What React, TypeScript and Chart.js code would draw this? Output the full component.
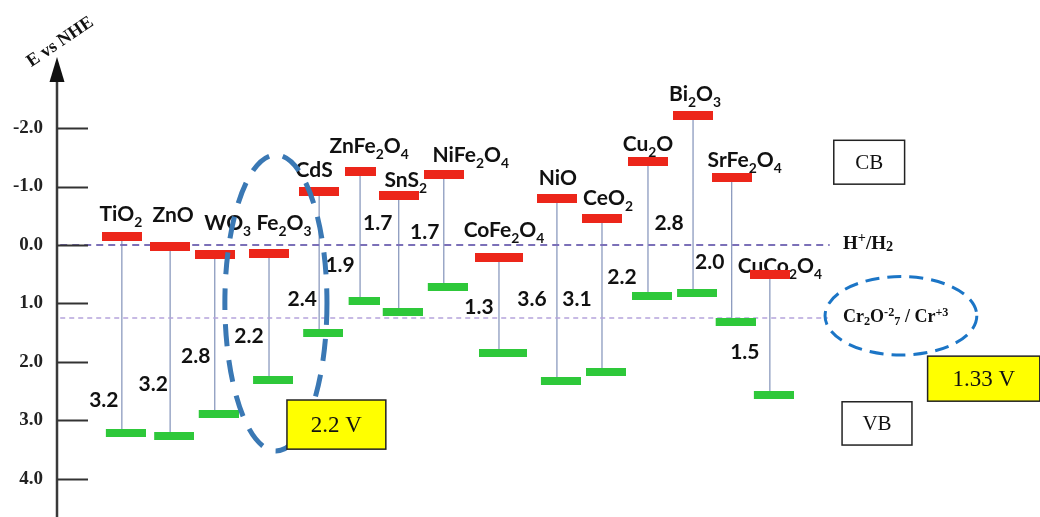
import React, { useEffect, useRef } from "react";
import { Chart, registerables } from "chart.js";

Chart.register(...registerables);

// ---------------- data ----------------
const materials = [
  "TiO_{2}", "ZnO", "WO_{3}", "Fe_{2}O_{3}", "CdS", "ZnFe_{2}O_{4}", "SnS_{2}", "NiFe_{2}O_{4}",
  "CoFe_{2}O_{4}", "NiO", "CeO_{2}", "Cu_{2}O", "Bi_{2}O_{3}", "SrFe_{2}O_{4}", "CuCo_{2}O_{4}",
];
const materialPosition = [1.41, 2.46, 3.43, 4.61, 5.70, 6.59, 7.43, 8.41, 9.61, 10.87, 11.85, 12.85, 13.83, 14.67, 15.50];
const conductionBand = [-0.14, 0.02, 0.17, 0.14, -0.91, -1.25, -0.85, -1.21, 0.21, -0.80, -0.46, -1.42, -2.22, -1.15, 0.50];
const valenceBand = [3.21, 3.26, 2.89, 2.31, 1.50, 0.96, 1.15, 0.72, 1.85, 2.32, 2.17, 0.87, 0.82, 1.32, 2.56];
const bandGapLabels = ["3.2", "3.2", "2.8", "2.2", "2.4", "1.9", "1.7", "1.7", "1.3", "3.6", "3.1", "2.2", "2.8", "2.0", "1.5"];
const bandGapLabelLevel = [2.65, 2.38, 1.91, 1.56, 0.92, 0.34, -0.38, -0.22, 1.06, 0.92, 0.92, 0.55, -0.38, 0.29, 1.83];
const yTicks = [-2, -1, 0, 1, 2, 3, 4];
const hydrogenLevel = 0;
const chromateLevel = 1.25;
const refLineStart = 0.07;
const refLineEnd = 16.8;

// ---------------- layout / style (not data) ----------------
const X_MAX = 21.2;
const Y_MIN = -3.214;
const Y_MAX = 4.65;
const nameOffset = [
  [-1, -16], [3, -24], [13, -25], [15, -23], [-5, -15], [9, -19], [7, -8], [27, -12],
  [5, -20], [1, -13], [6, -13], [0, -11], [2, -14], [13, -11], [10, -1],
];
const gapOffset = [-18, -17, -19, -20, -17, -20, -21, -19, -20, -25, -25, -26, -24, -22, -25];
const barWidthOverride: Record<number, number> = { 5: 31, 8: 48 };
const RED = "#ec261a";
const GREEN = "#2ec83a";
const NAME_FONT = "Lato, 'Open Sans', sans-serif";
const SERIF = "'Liberation Serif', 'Times New Roman', serif";

function makeBar(color: string, width: number, height: number, offset: number) {
  const c = document.createElement("canvas");
  c.width = width + 2 * Math.abs(offset);
  c.height = height;
  const g = c.getContext("2d")!;
  g.fillStyle = color;
  g.fillRect(offset > 0 ? 2 * offset : 0, 0, width, height);
  return c;
}

function parseRich(s: string) {
  const runs: { t: string; k: "n" | "sub" | "sup" }[] = [];
  const re = /([_^])\{([^}]*)\}|([^_^]+)/g;
  let m: RegExpExecArray | null;
  while ((m = re.exec(s))) {
    if (m[3]) runs.push({ t: m[3], k: "n" });
    else runs.push({ t: m[2], k: m[1] === "_" ? "sub" : "sup" });
  }
  return runs;
}

function drawRich(
  ctx: CanvasRenderingContext2D, s: string, x: number, y: number, size: number,
  family: string, weight: string, align: "center" | "left", color: string,
  subDy = 0.28, supDy = 0.4, smallRatio = 0.66,
) {
  const runs = parseRich(s);
  const small = size * smallRatio;
  const fontFor = (k: string) => `${weight} ${k === "n" ? size : small}px ${family}`;
  let total = 0;
  const widths = runs.map((r) => {
    ctx.font = fontFor(r.k);
    const w = ctx.measureText(r.t).width;
    total += w;
    return w;
  });
  let cx = align === "center" ? x - total / 2 : x;
  ctx.fillStyle = color;
  ctx.textBaseline = "alphabetic";
  ctx.textAlign = "left";
  runs.forEach((r, i) => {
    ctx.font = fontFor(r.k);
    const dy = r.k === "sub" ? size * subDy : r.k === "sup" ? -size * supDy : 0;
    ctx.fillText(r.t, cx, y + dy);
    cx += widths[i];
  });
}

const decorPlugin = {
  id: "decor",
  beforeDatasetsDraw(chart: any) {
    const ctx: CanvasRenderingContext2D = chart.ctx;
    const xs = chart.scales.x;
    const ys = chart.scales.y;
    ctx.save();
    materials.forEach((name, i) => {
      const px = xs.getPixelForValue(materialPosition[i]);
      const py = ys.getPixelForValue(conductionBand[i]);
      const [dx, dy] = nameOffset[i];
      drawRich(ctx, name, px + dx, py + dy, 21, NAME_FONT, "bold", "center", "#111");
      ctx.font = `bold 21px ${NAME_FONT}`;
      ctx.textAlign = "center";
      ctx.textBaseline = "middle";
      ctx.fillStyle = "#111";
      ctx.fillText(bandGapLabels[i], px + gapOffset[i], ys.getPixelForValue(bandGapLabelLevel[i]));
    });
    ctx.restore();
  },
  afterDatasetsDraw(chart: any) {
    const ctx: CanvasRenderingContext2D = chart.ctx;
    const xs = chart.scales.x;
    const ys = chart.scales.y;
    const area = chart.chartArea;
    const X = (v: number) => xs.getPixelForValue(v);
    const Y = (v: number) => ys.getPixelForValue(v);
    ctx.save();
    // axis line + arrow
    const ax = area.left;
    ctx.strokeStyle = "#3a3a3a";
    ctx.lineWidth = 2.5;
    ctx.beginPath();
    ctx.moveTo(ax, area.top + 20);
    ctx.lineTo(ax, chart.height);
    ctx.stroke();
    ctx.fillStyle = "#111";
    ctx.beginPath();
    ctx.moveTo(ax, area.top);
    ctx.lineTo(ax - 7.5, area.top + 25);
    ctx.lineTo(ax + 7.5, area.top + 25);
    ctx.closePath();
    ctx.fill();
    // tick marks
    ctx.strokeStyle = "#333";
    ctx.lineWidth = 2;
    yTicks.forEach((t) => {
      const y = Math.round(Y(t)) + 0.5;
      ctx.beginPath();
      ctx.moveTo(ax, y);
      ctx.lineTo(ax + 31, y);
      ctx.stroke();
    });
    // axis title
    ctx.save();
    ctx.translate(X(0.07), Y(-3.47));
    ctx.rotate(-34 * Math.PI / 180);
    ctx.font = `bold 18px ${SERIF}`;
    ctx.fillStyle = "#111";
    ctx.textAlign = "center";
    ctx.textBaseline = "middle";
    ctx.fillText("E vs NHE", 0, 0);
    ctx.restore();

    // ellipses
    const ell = (cx: number, cy: number, rx: number, ry: number, color: string, lw: number, dash: number[]) => {
      const px = X(cx), py = Y(cy);
      ctx.strokeStyle = color;
      ctx.lineWidth = lw;
      ctx.setLineDash(dash);
      ctx.beginPath();
      ctx.ellipse(px, py, Math.abs(X(cx + rx) - px), Math.abs(Y(cy + ry) - py), 0, 0, Math.PI * 2);
      ctx.stroke();
      ctx.setLineDash([]);
    };
    ell(4.76, 0.99, 1.11, 2.53, "#3a78b4", 5, [22, 14]);
    ell(18.35, 1.21, 1.65, 0.67, "#1b75c6", 3, [14, 8]);

    // boxes
    const box = (x0: number, x1: number, e0: number, e1: number, fill: string, text: string, size: number) => {
      const l = X(x0), r = X(x1), t = Y(e0), b = Y(e1);
      ctx.fillStyle = fill;
      ctx.fillRect(l, t, r - l, b - t);
      ctx.strokeStyle = "#222";
      ctx.lineWidth = 1.5;
      ctx.strokeRect(l, t, r - l, b - t);
      ctx.fillStyle = "#111";
      ctx.font = `${size}px ${SERIF}`;
      ctx.textAlign = "center";
      ctx.textBaseline = "middle";
      ctx.fillText(text, (l + r) / 2, (t + b) / 2 + 1);
    };
    box(5.0, 7.15, 2.65, 3.49, "#ffff00", "2.2 V", 23);
    box(18.93, 21.37, 1.9, 2.67, "#ffff00", "1.33 V", 23);
    box(16.89, 18.43, -1.79, -1.04, "#ffffff", "CB", 21);
    box(17.07, 18.59, 2.68, 3.42, "#ffffff", "VB", 21);

    // reference labels
    drawRich(ctx, "H^{+}/H_{2}", X(17.09), Y(hydrogenLevel) + 4, 19, SERIF, "bold", "left", "#111", 0.12, 0.35, 0.75);
    drawRich(ctx, "Cr_{2}O^{-2}_{7} / Cr^{+3}", X(17.09), Y(1.22) + 6, 18, SERIF, "bold", "left", "#111", 0.12, 0.38, 0.68);
    ctx.restore();
  },
};

export default function App() {
  const ref = useRef<HTMLCanvasElement>(null);
  useEffect(() => {
    const canvas = ref.current!;
    const cbPoints = materials.map((_, i) => ({ x: materialPosition[i], y: conductionBand[i] }));
    const vbPoints = materials.map((_, i) => ({ x: materialPosition[i], y: valenceBand[i] }));
    const connectors: any[] = [];
    materials.forEach((_, i) => {
      connectors.push({ x: materialPosition[i], y: conductionBand[i] });
      connectors.push({ x: materialPosition[i], y: valenceBand[i] });
      connectors.push({ x: materialPosition[i], y: null });
    });
    const redBars = materials.map((_, i) => makeBar(RED, barWidthOverride[i] ?? 40, 9, 0));
    const greenBars = materials.map((_, i) => makeBar(GREEN, barWidthOverride[i] ?? 40, 8, 4));

    const chart = new Chart(canvas, {
      type: "line",
      data: {
        datasets: [
          {
            label: "CB",
            data: cbPoints,
            showLine: false,
            pointStyle: (c: any) => redBars[c.dataIndex],
            pointRadius: 20,
            order: 0,
          } as any,
          {
            label: "VB",
            data: vbPoints,
            showLine: false,
            pointStyle: (c: any) => greenBars[c.dataIndex],
            pointRadius: 20,
            order: 0,
          } as any,
          {
            label: "H+/H2",
            data: [{ x: refLineStart, y: hydrogenLevel }, { x: refLineEnd, y: hydrogenLevel }],
            borderColor: "#7b70b8",
            borderWidth: 2,
            borderDash: [7, 5],
            pointRadius: 0,
            order: 1,
          },
          {
            label: "Cr",
            data: [{ x: refLineStart, y: chromateLevel }, { x: refLineEnd - 0.04, y: chromateLevel }],
            borderColor: "#b5a4dc",
            borderWidth: 1.5,
            borderDash: [5, 4],
            pointRadius: 0,
            order: 1,
          },
          {
            label: "gap",
            data: connectors,
            borderColor: "#8c9bbf",
            borderWidth: 1.3,
            pointRadius: 0,
            spanGaps: false,
            order: 2,
          },
        ],
      },
      options: {
        animation: false,
        responsive: true,
        maintainAspectRatio: false,
        layout: { autoPadding: false, padding: { top: 57, left: 0, right: 8, bottom: 0 } },
        plugins: { legend: { display: false }, tooltip: { enabled: false } },
        scales: {
          x: { type: "linear", min: 0, max: X_MAX, display: false },
          y: {
            type: "linear",
            reverse: true,
            min: Y_MIN,
            max: Y_MAX,
            grid: { display: false, drawTicks: false },
            border: { display: false },
            afterBuildTicks: (s: any) => {
              s.ticks = yTicks.map((v) => ({ value: v }));
            },
            afterFit: (s: any) => {
              s.width = 57;
              s.paddingTop = 0;
              s.paddingBottom = 0;
            },
            ticks: {
              padding: 14,
              color: "#222",
              font: { family: SERIF, weight: "bold", size: 19 },
              callback: (v: any) => Number(v).toFixed(1),
            },
          },
        },
      },
      plugins: [decorPlugin],
    } as any);
    return () => chart.destroy();
  }, []);
  return (
    <div style={{ position: "fixed", left: 0, top: 0, width: 1040, height: 517, background: "#fff" }}>
      <canvas ref={ref} />
    </div>
  );
}
